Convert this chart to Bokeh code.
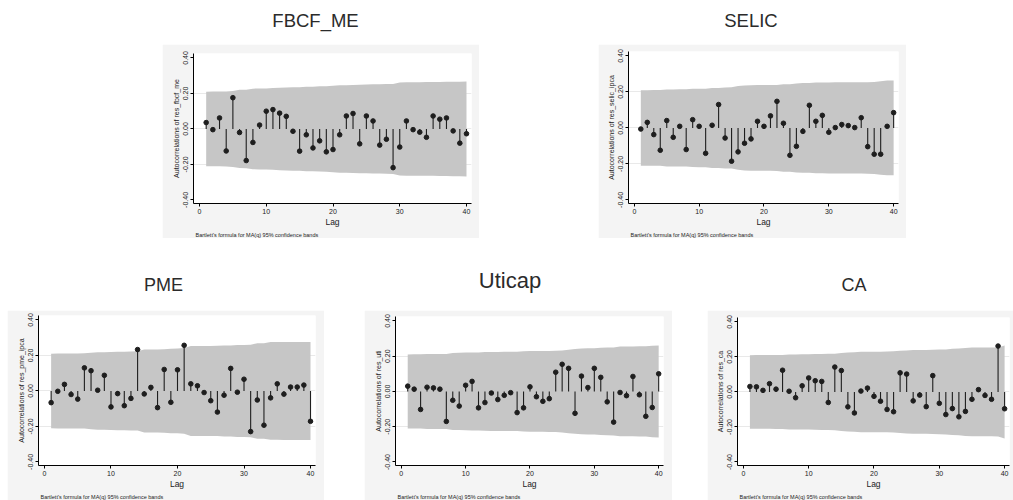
import numpy as np
from bokeh.plotting import figure
from bokeh.models import Div, Spacer, FixedTicker, PrintfTickFormatter, Range1d, Title
from bokeh.layouts import row, column
from bokeh.embed import file_html
from bokeh.resources import INLINE

# ---------------- data ----------------
LAGS = list(range(1, 41))
N_OBS = 87  # sample size implied by the lag-1 band (1.96/sqrt(N) ~ 0.21)

acf_fbcf_me = [0.036, -0.004, 0.062, -0.124, 0.176, -0.020, -0.178, -0.076, 0.022, 0.100,
               0.109, 0.089, 0.071, -0.013, -0.125, -0.033, -0.107, -0.067, -0.129, -0.116,
               -0.033, 0.073, 0.087, -0.084, 0.073, 0.045, -0.091, -0.058, -0.218, -0.102,
               0.045, -0.004, -0.018, -0.047, 0.073, 0.055, 0.062, -0.011, -0.080, -0.027]

acf_selic = [-0.006, 0.031, -0.037, -0.124, 0.041, -0.052, 0.009, -0.120, 0.046, 0.009,
             -0.141, 0.015, 0.130, -0.056, -0.185, -0.133, -0.085, -0.061, 0.037, 0.009,
             0.067, 0.148, 0.026, -0.152, -0.102, -0.019, 0.126, 0.037, 0.070, -0.024,
             0.002, 0.019, 0.013, 0.002, 0.057, -0.104, -0.146, -0.146, 0.009, 0.085]

acf_pme = [-0.066, -0.002, 0.037, -0.020, -0.046, 0.130, 0.114, 0.004, 0.088, -0.090,
           -0.015, -0.083, -0.042, 0.233, -0.017, 0.020, -0.094, 0.121, -0.064, 0.119,
           0.257, 0.040, 0.029, -0.009, -0.055, -0.119, -0.024, 0.127, -0.007, 0.066,
           -0.229, -0.051, -0.193, -0.039, 0.040, -0.018, 0.022, 0.022, 0.033, -0.171]

acf_uticap = [0.030, 0.013, -0.102, 0.024, 0.020, 0.013, -0.170, -0.050, -0.083, 0.035,
              0.057, -0.093, -0.063, -0.009, -0.046, -0.022, -0.007, -0.120, -0.093, 0.026,
              -0.030, -0.056, -0.041, 0.109, 0.154, 0.131, -0.124, 0.087, 0.022, 0.131,
              0.080, -0.059, -0.174, -0.006, -0.024, 0.085, -0.019, -0.141, -0.091, 0.100]

acf_ca = [0.031, 0.029, 0.009, 0.047, 0.016, 0.124, 0.004, -0.033, 0.035, 0.080,
          0.064, 0.060, -0.060, 0.142, 0.122, -0.085, -0.120, 0.005, 0.022, -0.025,
          -0.053, -0.100, -0.113, 0.109, 0.102, -0.051, -0.018, -0.084, 0.093, -0.065,
          -0.129, -0.095, -0.142, -0.111, -0.042, 0.013, -0.020, -0.042, 0.262, -0.096]

X_TICKS = [0, 10, 20, 30, 40]
Y_TICKS = [-0.40, -0.20, 0.00, 0.20, 0.40]
X_LABEL = "Lag"
NOTE = "Bartlett's formula for MA(q) 95% confidence bands"

FONT = "Liberation Sans"
PANEL_BG = "#f4f4f4"
BAND = "#c6c6c6"
INK = "#1e1e1e"


def bartlett_band(r, n):
    r = np.asarray(r, dtype=float)
    cum = np.concatenate([[0.0], np.cumsum(r[:-1] ** 2)])
    return 1.96 * np.sqrt((1.0 + 2.0 * cum) / n)


def panel(acf, ylabel, width, height, left, right, top, bottom):
    p = figure(width=width, height=height, output_backend="svg", toolbar_location=None,
               x_range=Range1d(-0.9, 40.75), y_range=Range1d(-0.42, 0.425),
               min_border_left=left, min_border_right=right,
               min_border_top=top, min_border_bottom=bottom,
               border_fill_color=PANEL_BG, background_fill_color="white",
               outline_line_color=None)
    band = bartlett_band(acf, N_OBS)
    p.varea(x=LAGS, y1=-band, y2=band, fill_color=BAND, fill_alpha=1.0)
    p.segment(x0=LAGS, y0=[0.0] * len(LAGS), x1=LAGS, y1=acf,
              line_color=INK, line_width=1.1)
    p.scatter(x=LAGS, y=acf, size=4.6, fill_color=INK, line_color=INK)

    p.xgrid.visible = False
    p.ygrid.ticker = FixedTicker(ticks=[-0.2, 0.0, 0.2])
    p.ygrid.grid_line_color = "#e9e9e9"
    p.ygrid.grid_line_width = 1

    for ax in (p.xaxis[0], p.yaxis[0]):
        ax.axis_line_color = "black"
        ax.axis_line_width = 1
        ax.major_tick_line_color = "black"
        ax.major_tick_out = 3
        ax.major_tick_in = 0
        ax.minor_tick_line_color = None
        ax.major_label_text_font = FONT
        ax.major_label_text_font_size = "7px"
        ax.major_label_text_color = "#222222"
        ax.major_label_standoff = 2
        ax.axis_label_text_font = FONT
        ax.axis_label_text_font_style = "normal"
        ax.axis_label_text_color = "#222222"

    p.xaxis.ticker = FixedTicker(ticks=X_TICKS)
    p.xaxis.axis_label = X_LABEL
    p.xaxis.axis_label_text_font_size = "8.5px"
    p.xaxis.axis_label_standoff = 0

    p.yaxis.ticker = FixedTicker(ticks=Y_TICKS)
    p.yaxis.formatter = PrintfTickFormatter(format="%.2f")
    p.yaxis.major_label_orientation = "vertical"
    p.yaxis.axis_label = ylabel
    p.yaxis.axis_label_text_font_size = "7px"
    p.yaxis.axis_label_standoff = 1

    note = Title(text=NOTE, align="left", text_font=FONT, text_font_size="5.5px",
                 text_font_style="normal", text_color="#222222", standoff=1, offset=2)
    p.add_layout(note, "below")
    return p


def title_div(text, width, height, size, pad_top, shift):
    html = (f'<div style="width:{width}px;text-align:center;padding-top:{pad_top}px;'
            f'font-family:\'{FONT}\',Arial,sans-serif;font-size:{size}px;line-height:{size}px;'
            f'color:#2b2b2b;position:relative;left:{shift}px;white-space:nowrap">{text}</div>')
    return Div(text=html, width=width, height=height, margin=0)


# ---------------- top row ----------------
f_fbcf = panel(acf_fbcf_me, "Autocorrelations of res_fbcf_me", 317, 194, 31, 8, 9, 32)
f_selic = panel(acf_selic, "Autocorrelations of res_selic_ipca", 308, 194, 30, 8, 7, 32)

top = row(
    Spacer(width=162, height=10),
    column(title_div("FBCF_ME", 317, 44, 18.5, 12, -5), f_fbcf),
    Spacer(width=119, height=10),
    column(title_div("SELIC", 308, 44, 18.5, 12, -1), f_selic),
)

# ---------------- bottom row ----------------
f_pme = panel(acf_pme, "Autocorrelations of res_pme_ipca", 317, 190, 31, 9, 5, 30)
f_uti = panel(acf_uticap, "Autocorrelations of res_uti", 308, 190, 31, 9, 6, 30)
f_ca = panel(acf_ca, "Autocorrelations of res_ca", 306, 190, 30, 4, 7, 30)

bottom = row(
    Spacer(width=7, height=10),
    column(title_div("PME", 317, 72, 18, 38, -2), f_pme),
    Spacer(width=40, height=10),
    column(title_div("Uticap", 308, 72, 22, 32, -8), f_uti),
    Spacer(width=35, height=10),
    column(title_div("CA", 306, 72, 18, 38, -6), f_ca),
)

layout = column(top, bottom)

open("out.html", "w").write(file_html(layout, INLINE))
